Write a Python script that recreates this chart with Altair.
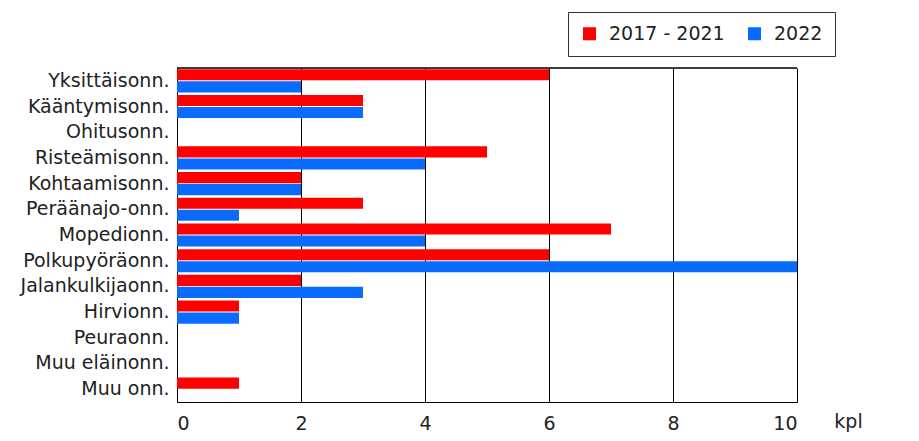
import altair as alt
import pandas as pd

categories = ["Yksittäisonn.", "Kääntymisonn.", "Ohitusonn.", "Risteämisonn.",
              "Kohtaamisonn.", "Peräänajo-onn.", "Mopedionn.", "Polkupyöräonn.",
              "Jalankulkijaonn.", "Hirvionn.", "Peuraonn.", "Muu eläinonn.", "Muu onn."]
series_names = ["2017 - 2021", "2022"]
vals_2017_2021 = [6, 3, 0, 5, 2, 3, 7, 6, 2, 1, 0, 0, 1]
vals_2022 = [2, 3, 0, 4, 2, 1, 4, 10, 3, 1, 0, 0, 0]
colors = ["#ff0000", "#0a6cff"]
x_ticks = [0, 2, 4, 6, 8, 10]

rows = []
for c, a, b in zip(categories, vals_2017_2021, vals_2022):
    rows.append({"cat": c, "series": series_names[0], "value": a})
    rows.append({"cat": c, "series": series_names[1], "value": b})
df = pd.DataFrame(rows)

FONT = "DejaVu Sans"
FS = 19

bars = alt.Chart(df).mark_bar().encode(
    y=alt.Y("cat:N", sort=categories,
            scale=alt.Scale(paddingInner=0.1, paddingOuter=0.05),
            axis=alt.Axis(title=None, ticks=False, grid=False, domainColor="#000",
                          labelFontSize=FS, labelFont=FONT, labelColor="#222",
                          labelPadding=8)),
    yOffset=alt.YOffset("series:N", sort=series_names,
                        scale=alt.Scale(paddingInner=0.08)),
    x=alt.X("value:Q", scale=alt.Scale(domain=[0, 10], nice=False),
            axis=alt.Axis(values=x_ticks, ticks=False, grid=True, gridColor="#000",
                          gridOpacity=1, domainColor="#000", labelFontSize=FS,
                          labelFont=FONT, labelColor="#222", labelPadding=12,
                          title="kpl", titleFont=FONT, titleFontSize=FS,
                          titleFontWeight="normal", titleColor="#222",
                          titleX=671, titleY=25, titleAlign="center",
                          titleBaseline="alphabetic")),
    color=alt.Color("series:N", sort=series_names,
                    scale=alt.Scale(domain=series_names, range=colors),
                    legend=alt.Legend(title=None, orient="none", direction="horizontal",
                                      legendX=391, legendY=-56, symbolType="square",
                                      symbolSize=170, symbolStrokeWidth=0,
                                      labelFont=FONT, labelFontSize=FS,
                                      labelColor="#222", strokeColor="#333",
                                      padding=12, columnPadding=20, labelOffset=10,
                                      fillColor="white")),
)

top_edge = alt.Chart(pd.DataFrame({"a": [0]})).mark_rule(
    color="#000", strokeWidth=1.5
).encode(x=alt.value(0), x2=alt.value(620), y=alt.value(0))

chart = alt.layer(bars, top_edge).properties(
    width=620, height=334,
    autosize=alt.AutoSizeParams(type="none"),
    padding={"left": 169, "top": 60, "right": 114, "bottom": 31},
).configure_view(stroke="#000", strokeWidth=1.5).configure(background="white")

chart.save("out.html", embed_options={"renderer": "svg", "actions": False})
